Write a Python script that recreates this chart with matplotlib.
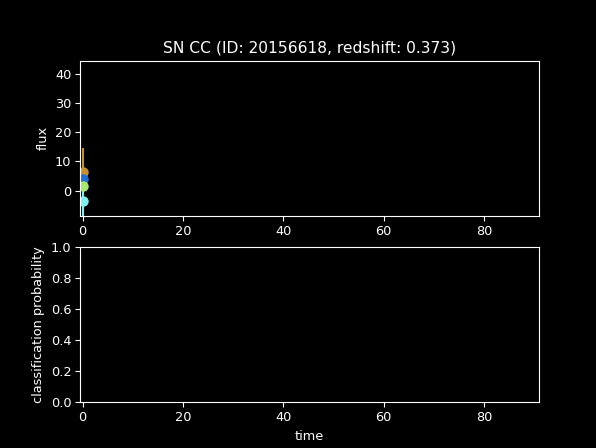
import matplotlib
matplotlib.use('Agg')
import matplotlib.pyplot as plt

# observations at the first epoch, one per passband
obs_time = [0.0, 0.0, 0.0, 0.0]
obs_flux = [6.4, 3.9, 1.7, -3.7]
obs_err = [8.0, 1.0, 1.0, 5.5]
band_colors = ['#c8922a', '#1f6fd6', '#a8e86a', '#7ff0f0']

title = 'SN CC (ID: 20156618, redshift: 0.373)'

plt.style.use('dark_background')
# the reference looks like a default 640x480 figure shrunk a little
plt.rcParams['font.size'] = 9.3
plt.rcParams['xtick.major.size'] = 3.3
plt.rcParams['ytick.major.size'] = 3.3
plt.rcParams['xtick.major.pad'] = 3.3
plt.rcParams['ytick.major.pad'] = 3.3

fig = plt.figure(figsize=(5.96, 4.48), dpi=100)
ax1 = fig.add_axes([0.135, 0.5185, 0.769, 0.3453])
ax2 = fig.add_axes([0.135, 0.1027, 0.769, 0.3467])

for t, f, e, c in zip(obs_time, obs_flux, obs_err, band_colors):
    ax1.errorbar(t, f, yerr=e, fmt='o', color=c, markersize=6.5)

ax1.set_xlim(-0.45, 90.9)
ax1.set_ylim(-8.6, 44.3)
ax1.set_yticks([0, 10, 20, 30, 40])
ax1.set_xticks([0, 20, 40, 60, 80])
ax1.set_ylabel('flux')
ax1.set_title(title, fontsize=11.2)

ax2.set_xlim(-0.45, 90.9)
ax2.set_ylim(0, 1)
ax2.set_xticks([0, 20, 40, 60, 80])
ax2.set_yticks([0.0, 0.2, 0.4, 0.6, 0.8, 1.0])
ax2.set_ylabel('classification probability')
ax2.set_xlabel('time')

fig.savefig('out.png', dpi=100)
